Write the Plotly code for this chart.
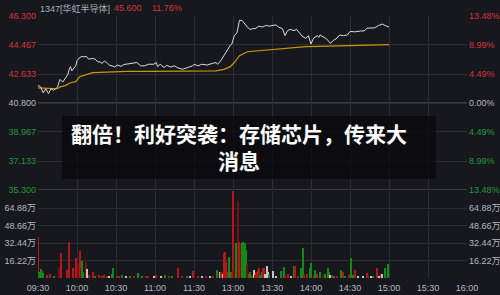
import plotly.graph_objects as go

# ---------------- data ----------------
time_labels = ["09:30", "10:00", "10:30", "11:00", "11:30", "13:00",
               "13:30", "14:00", "14:30", "15:00", "15:30", "16:00"]
prev_close = 40.800
price_ticks = [46.300, 44.467, 42.633, 40.800, 38.967, 37.133, 35.300]
pct_labels = ["13.48%", "8.99%", "4.49%", "0.00%", "4.49%", "8.99%", "13.48%"]
vol_ticks = [16.22, 32.44, 48.66, 64.88]

header_code = "1347[华虹半导体]"
header_price = "45.600"
header_pct = "11.76%"
headline = "翻倍！利好突袭：存储芯片，传来大<br>消息"

# trading minutes since 09:30 (lunch break removed)
price_minute = [0, 2, 4, 6, 8, 10, 12, 15, 16, 17, 19, 21, 23, 24, 25, 26, 28, 29, 30, 32,
                34, 36, 37, 39, 42, 44, 46, 48, 49, 51, 53, 55, 57, 59, 61, 64, 66, 68, 71, 76,
                79, 82, 85, 89, 91, 92, 94, 97, 99, 102, 105, 107, 111, 115, 119, 120, 123, 126, 130, 134,
                137, 138, 140, 143, 146, 148, 149, 151, 153, 154, 155, 157, 159, 161, 163, 165, 167, 170, 173, 175,
                178, 180, 183, 185, 188, 190, 192, 194, 197, 199, 201, 203, 206, 208, 210, 212, 215, 216, 217, 220,
                222, 225, 227, 230, 232, 235, 238, 240, 244, 248, 251, 253, 257, 259, 262, 265, 267, 270]
price = [41.91, 41.82, 41.44, 41.70, 41.40, 41.70, 41.60, 41.80, 42.08, 42.29, 42.12, 42.40, 42.61, 42.93, 43.10, 42.83, 43.00, 43.15, 43.47, 43.68,
         43.74, 43.72, 43.76, 43.57, 43.62, 43.57, 43.40, 43.40, 43.29, 43.45, 43.35, 43.18, 43.15, 43.08, 43.20, 43.12, 43.23, 43.25, 43.30, 43.36,
         43.15, 43.15, 43.25, 43.25, 43.36, 43.10, 43.25, 43.04, 43.18, 43.08, 43.15, 43.04, 42.93, 43.04, 43.15, 43.25, 43.15, 43.25, 43.20, 43.30,
         43.36, 43.25, 43.40, 43.79, 44.21, 44.46, 44.50, 45.06, 45.23, 45.70, 46.02, 46.02, 45.80, 45.60, 45.45, 45.50, 45.50, 45.66, 45.60, 45.70,
         45.66, 45.70, 45.74, 45.60, 45.50, 45.06, 45.38, 45.45, 45.38, 45.45, 45.27, 45.04, 44.88, 45.06, 44.53, 44.90, 45.06, 44.95, 45.10, 44.95,
         44.85, 44.57, 44.75, 44.90, 45.10, 45.06, 45.10, 45.32, 45.30, 45.35, 45.36, 45.53, 45.55, 45.55, 45.70, 45.79, 45.70, 45.60]

avg_minute = [0, 15, 17, 21, 25, 29, 32, 37, 42, 53, 68, 85, 137, 143, 148, 151, 155, 161, 170, 183, 206, 216, 240, 270]
avg_price = [41.76, 41.70, 41.82, 41.90, 42.08, 42.15, 42.46, 42.61, 42.72, 42.75, 42.80, 42.80, 42.83, 42.93, 43.10, 43.36,
             43.79, 44.04, 44.10, 44.21, 44.36, 44.38, 44.43, 44.49]

# volume (万) per minute, with bar colour code: r up, d up (dark), g down, w flat
vol_minute = [0, 1, 2, 3, 4, 7, 9, 12, 16, 17, 18, 22, 24, 27, 29, 31, 32, 33, 34, 35,
              37, 38, 39, 42, 44, 47, 49, 51, 53, 55, 57, 58, 61, 62, 65, 68, 71, 74, 77, 80,
              83, 85, 89, 91, 95, 98, 101, 103, 108, 111, 115, 117, 119, 123, 126, 129, 132, 135, 138, 140,
              141, 142, 143, 144, 145, 146, 147, 148, 149, 150, 151, 152, 153, 154, 155, 156, 157, 158, 159, 160,
              161, 162, 163, 165, 166, 167, 168, 169, 170, 171, 172, 173, 174, 175, 176, 177, 178, 181, 183, 187,
              189, 190, 192, 195, 197, 198, 200, 202, 204, 205, 207, 209, 210, 212, 213, 215, 217, 219, 221, 223,
              224, 225, 226, 228, 230, 233, 235, 236, 239, 241, 242, 244, 246, 250, 253, 254, 256, 258, 261, 262,
              264, 265, 267, 269]
volume = [38.9, 6, 9, 7, 5, 3, 4, 2.5, 10, 12, 23.6, 8, 34.2, 9.3, 18.6, 14, 25.8, 10, 16.1, 6,
          14.9, 8.4, 3, 6.2, 2, 3, 2.5, 3, 2, 2, 4, 9.3, 2, 2, 3, 2, 2, 2, 4.7, 2,
          2, 2, 2, 3.5, 2, 3.5, 2, 2, 9.3, 2, 2, 2, 6.5, 2, 2, 2, 2, 2, 7.8, 5.6,
          6, 4, 23.3, 24.2, 15.5, 6, 20.2, 6, 6, 80.8, 9, 32.6, 20, 72, 34.2, 32.6, 32.6, 34.2, 32.6, 26.4,
          12.4, 4, 6, 3, 7.8, 3, 6, 8, 9.3, 3, 6, 9.3, 10, 4, 11.8, 6, 3, 6.8, 2, 7,
          10.9, 3, 4, 2, 11.8, 11.8, 2, 9.3, 28, 3, 4, 9.3, 14, 3, 7.8, 4, 6, 3, 4, 9.3,
          6, 3, 3, 2, 2.5, 7.8, 6, 2, 3, 18.6, 3, 7.8, 2, 2, 5.5, 2, 2, 2, 9.3, 2,
          4, 4, 10, 13]
vol_dir = ["r", "g", "g", "g", "g", "r", "r", "g", "d", "d", "r", "r", "r", "r", "r", "d", "r", "d", "g", "g",
           "d", "w", "r", "r", "g", "r", "r", "r", "r", "w", "g", "g", "r", "r", "g", "w", "g", "r", "g", "g",
           "r", "r", "w", "r", "w", "g", "r", "g", "r", "r", "g", "w", "r", "r", "w", "r", "w", "r", "g", "w",
           "r", "w", "r", "r", "r", "r", "g", "g", "r", "r", "d", "g", "g", "d", "r", "d", "g", "g", "g", "g",
           "d", "g", "g", "r", "w", "r", "r", "r", "r", "g", "g", "r", "r", "w", "w", "w", "g", "w", "w", "g",
           "g", "r", "r", "w", "g", "r", "r", "g", "g", "r", "r", "g", "g", "r", "g", "r", "g", "d", "g", "g",
           "g", "w", "r", "g", "r", "g", "r", "g", "r", "g", "g", "r", "w", "w", "r", "r", "w", "g", "r", "w",
           "r", "w", "g", "g"]

# ---------------- style ----------------
BG = "#16181d"
GRID = "#2b2e35"
RED = "#d8343c"
GREEN = "#1f9a3c"
NEUTRAL = "#b4b8c0"
FONT = "Liberation Sans, Noto Sans CJK SC, sans-serif"
bar_palette = {"r": "#b8141b", "d": "#761113", "g": "#128a16", "w": "#c4c4c4"}


def tick_colour(v):
    if v > prev_close + 1e-9:
        return RED
    if v < prev_close - 1e-9:
        return GREEN
    return NEUTRAL


left_text = [f'<span style="color:{tick_colour(v)}">{v:.3f}</span>' for v in price_ticks]
right_text = [f'<span style="color:{tick_colour(v)}">{t}</span>' for v, t in zip(price_ticks, pct_labels)]
vol_text = [f"{v:.2f}万" for v in vol_ticks]
x_ticks = [30 * i for i in range(len(time_labels))]

fig = go.Figure()
fig.add_trace(go.Scatter(x=avg_minute, y=avg_price, mode="lines",
                         line=dict(color="#c9960c", width=1.2), xaxis="x", yaxis="y", hoverinfo="skip"))
fig.add_trace(go.Scatter(x=price_minute, y=price, mode="lines",
                         line=dict(color="#dcdcdc", width=1), xaxis="x", yaxis="y", hoverinfo="skip"))
fig.add_trace(go.Bar(x=vol_minute, y=volume, width=0.8,
                     marker=dict(color=[bar_palette[c] for c in vol_dir], line=dict(width=0)),
                     xaxis="x2", yaxis="y2", hoverinfo="skip"))
# invisible traces so the right-side axes exist
fig.add_trace(go.Scatter(x=[0], y=[prev_close], mode="markers", marker=dict(opacity=0),
                         xaxis="x", yaxis="y3", hoverinfo="skip"))
fig.add_trace(go.Scatter(x=[0], y=[0], mode="markers", marker=dict(opacity=0),
                         xaxis="x2", yaxis="y4", hoverinfo="skip"))

xdom = [38 / 500, 467 / 500]
pdom = [1 - 190 / 295, 1 - 16 / 295]
vdom = [1 - 278 / 295, 1 - 190.5 / 295]
tickfont = dict(family=FONT, size=9, color=NEUTRAL)

fig.update_layout(
    width=500, height=295, margin=dict(l=0, r=0, t=0, b=0, autoexpand=False),
    paper_bgcolor=BG, plot_bgcolor=BG, showlegend=False, bargap=0,
    xaxis=dict(domain=xdom, range=[0, 330], tickvals=x_ticks, showticklabels=False,
               showgrid=True, gridcolor=GRID, gridwidth=1, zeroline=False, anchor="y", automargin=False),
    xaxis2=dict(domain=xdom, range=[0, 330], tickvals=x_ticks, ticktext=time_labels,
                showgrid=True, gridcolor=GRID, gridwidth=1, zeroline=False, anchor="y2",
                tickfont=tickfont, ticks="", ticklabelstandoff=3, automargin=False),
    yaxis=dict(domain=pdom, range=[35.3, 46.3], tickvals=price_ticks, ticktext=left_text,
               showgrid=True, gridcolor=GRID, gridwidth=1, zeroline=False, anchor="x",
               side="left", tickfont=tickfont, ticks="", ticklabelstandoff=1, automargin=False),
    yaxis3=dict(range=[35.3, 46.3], tickvals=price_ticks, ticktext=right_text, overlaying="y",
                side="right", anchor="x", showgrid=False, zeroline=False, tickfont=tickfont,
                ticks="", ticklabelstandoff=1, automargin=False),
    yaxis2=dict(domain=vdom, range=[0, 81.1], tickvals=vol_ticks, ticktext=vol_text,
                showgrid=True, gridcolor=GRID, gridwidth=1, zeroline=False, anchor="x2",
                side="left", tickfont=tickfont, ticks="", ticklabelstandoff=1, automargin=False),
    yaxis4=dict(range=[0, 81.1], tickvals=vol_ticks, ticktext=vol_text, overlaying="y2",
                side="right", anchor="x2", showgrid=False, zeroline=False, tickfont=tickfont,
                ticks="", ticklabelstandoff=1, automargin=False),
)

# emphasised reference lines (previous close and panel separator)
fig.add_shape(type="line", xref="x", yref="y", x0=0, x1=330, y0=prev_close, y1=prev_close,
              line=dict(color="#3a3d44", width=2), layer="below")
fig.add_shape(type="line", xref="x", yref="y", x0=0, x1=330, y0=35.3, y1=35.3,
              line=dict(color="#3a3d44", width=2), layer="below")

# header
fig.add_annotation(x=38 / 500, y=1 - 8 / 295, xref="paper", yref="paper", xanchor="left", yanchor="middle",
                   text=header_code, showarrow=False, font=dict(family=FONT, size=9, color="#a9afb9"))
fig.add_annotation(x=112 / 500, y=1 - 8 / 295, xref="paper", yref="paper", xanchor="left", yanchor="middle",
                   text=header_price, showarrow=False, font=dict(family=FONT, size=9, color=RED))
fig.add_annotation(x=150 / 500, y=1 - 8 / 295, xref="paper", yref="paper", xanchor="left", yanchor="middle",
                   text=header_pct, showarrow=False, font=dict(family=FONT, size=9, color=RED))

# headline overlay
fig.add_shape(type="rect", xref="paper", yref="paper", x0=62 / 500, x1=436 / 500,
              y0=1 - 179 / 295, y1=1 - 116 / 295, fillcolor="rgba(8,9,11,0.72)",
              line=dict(width=0), layer="above")
fig.add_annotation(x=239 / 500, y=1 - 146 / 295, xref="paper", yref="paper", xanchor="center",
                   yanchor="middle", text=headline, showarrow=False, align="center",
                   font=dict(family="Noto Sans CJK SC", size=21, color="#ffffff", weight="bold"))

fig.write_html("out.html")
